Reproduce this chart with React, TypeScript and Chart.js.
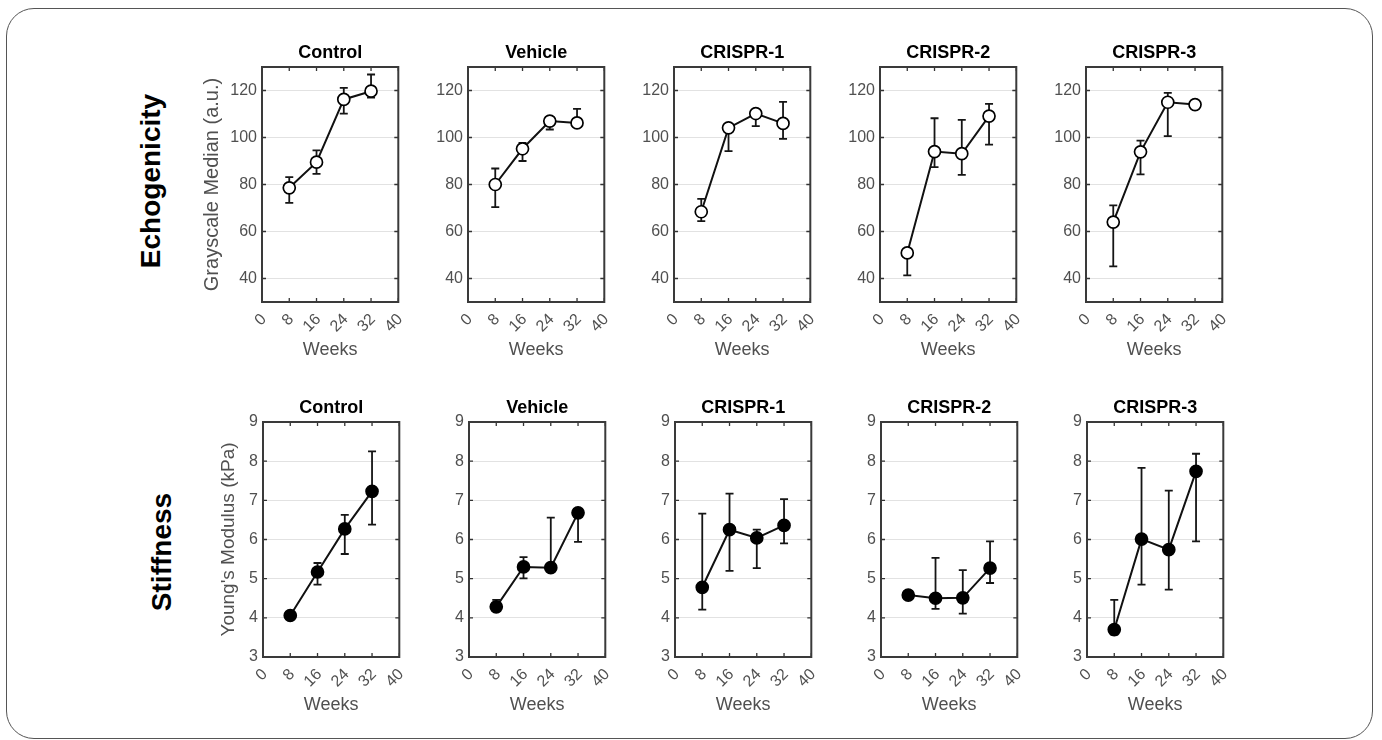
import React, { useEffect, useRef } from 'react';
import { Chart, registerables } from 'chart.js';

Chart.register(...registerables);

// ---------- data ----------
const GROUPS = ['Control', 'Vehicle', 'CRISPR-1', 'CRISPR-2', 'CRISPR-3'];
const WEEKS = [8, 16, 24, 32];
const X_TICKS = [0, 8, 16, 24, 32, 40];
const ECHO_TICKS = [40, 60, 80, 100, 120];
const STIFF_TICKS = [3, 4, 5, 6, 7, 8, 9];

// Echogenicity (grayscale median, a.u.), one row per group
const ECHO_MEAN = [
  [78.6, 89.5, 116.2, 119.7],
  [80.0, 95.2, 107.0, 106.2],
  [68.4, 104.1, 110.2, 106.0],
  [50.9, 94.0, 93.1, 109.1],
  [64.0, 93.9, 115.0, 114.0],
];
const ECHO_LOW = [
  [72.2, 84.5, 110.2, 117.0],
  [70.4, 90.0, 103.4, 104.5],
  [64.4, 94.2, 104.8, 99.4],
  [41.3, 87.4, 84.1, 97.0],
  [45.2, 84.3, 100.6, 113.3],
];
const ECHO_HIGH = [
  [83.1, 94.5, 121.1, 126.8],
  [86.8, 97.7, 108.0, 112.2],
  [73.9, 105.0, 111.5, 115.2],
  [52.5, 108.2, 107.5, 114.3],
  [71.1, 98.7, 119.0, 114.8],
];

// Stiffness (Young's modulus, kPa), one row per group
const STIFF_MEAN = [
  [4.06, 5.17, 6.27, 7.23],
  [4.28, 5.3, 5.28, 6.68],
  [4.78, 6.25, 6.04, 6.36],
  [4.58, 4.5, 4.51, 5.27],
  [3.7, 6.01, 5.74, 7.74],
];
const STIFF_LOW = [
  [4.0, 4.85, 5.63, 6.38],
  [4.2, 5.01, 5.2, 5.94],
  [4.21, 5.2, 5.27, 5.9],
  [4.52, 4.23, 4.11, 4.89],
  [3.57, 4.85, 4.72, 5.95],
];
const STIFF_HIGH = [
  [4.1, 5.4, 6.63, 8.25],
  [4.46, 5.55, 6.56, 6.75],
  [6.66, 7.17, 6.25, 7.03],
  [4.64, 5.53, 5.22, 5.95],
  [4.46, 7.83, 7.25, 8.19],
];

// ---------- layout ----------
const FONT = '"Liberation Sans", Arial, Helvetica, sans-serif';
const PLOT_LEFTS = [262, 468, 674, 880, 1086];
const PLOT_W = 136;
const PLOT_H = 235;
const Y_AXIS_W = 70;
const X_AXIS_H = 60;
const TITLE_H = 27;
const RIGHT_PAD = 4;

type PanelProps = {
  left: number;
  top: number;
  title: string;
  yTitle: string;
  yTitleSize: number;
  yTitlePad: number;
  mean: number[];
  low: number[];
  high: number[];
  yMin: number;
  yMax: number;
  yTicks: number[];
  filled: boolean;
};

function Panel(p: PanelProps) {
  const ref = useRef<HTMLCanvasElement>(null);
  useEffect(() => {
    if (!ref.current) return;
    const errorBars = {
      id: 'errorBars',
      beforeDatasetsDraw(chart: any) {
        const { ctx } = chart;
        const xs = chart.scales.x;
        const ys = chart.scales.y;
        ctx.save();
        ctx.strokeStyle = '#151515';
        ctx.lineWidth = 1.8;
        WEEKS.forEach((w, i) => {
          const px = xs.getPixelForValue(w);
          const y1 = ys.getPixelForValue(p.low[i]);
          const y2 = ys.getPixelForValue(p.high[i]);
          ctx.beginPath();
          ctx.moveTo(px, y1);
          ctx.lineTo(px, y2);
          ctx.moveTo(px - 4, y1);
          ctx.lineTo(px + 4, y1);
          ctx.moveTo(px - 4, y2);
          ctx.lineTo(px + 4, y2);
          ctx.stroke();
        });
        ctx.restore();
      },
    };
    const frame = {
      id: 'frame',
      afterDraw(chart: any) {
        const { ctx, chartArea: a } = chart;
        const xs = chart.scales.x;
        const ys = chart.scales.y;
        ctx.save();
        ctx.strokeStyle = '#333';
        ctx.lineWidth = 1.3;
        ctx.beginPath();
        xs.ticks.forEach((t: any) => {
          const px = xs.getPixelForValue(t.value);
          ctx.moveTo(px, a.bottom);
          ctx.lineTo(px, a.bottom - 4);
          ctx.moveTo(px, a.top);
          ctx.lineTo(px, a.top + 4);
        });
        ys.ticks.forEach((t: any) => {
          const py = ys.getPixelForValue(t.value);
          ctx.moveTo(a.left, py);
          ctx.lineTo(a.left + 4, py);
          ctx.moveTo(a.right, py);
          ctx.lineTo(a.right - 4, py);
        });
        ctx.stroke();
        ctx.strokeStyle = '#3a3a3a';
        ctx.lineWidth = 2;
        ctx.strokeRect(a.left, a.top, a.right - a.left, a.bottom - a.top);
        ctx.restore();
      },
    };
    const chart = new Chart(ref.current, {
      type: 'line',
      data: {
        datasets: [
          {
            data: WEEKS.map((w, i) => ({ x: w, y: p.mean[i] })),
            borderColor: '#111',
            borderWidth: 2,
            pointRadius: 6,
            pointBorderWidth: 1.7,
            pointBackgroundColor: p.filled ? '#000' : '#fff',
            pointBorderColor: '#000',
            tension: 0,
            clip: 8,
          },
        ],
      },
      options: {
        responsive: false,
        animation: false,
        events: [],
        layout: { padding: { left: 0, right: RIGHT_PAD, top: 0, bottom: 0 } },
        plugins: {
          legend: { display: false },
          tooltip: { enabled: false },
          title: {
            display: true,
            fullSize: false,
            text: p.title,
            color: '#000',
            font: { family: FONT, size: 18, weight: 'bold', lineHeight: 1 },
            padding: { top: 4, bottom: 5 },
          },
        },
        scales: {
          x: {
            type: 'linear',
            min: 0,
            max: 40,
            afterBuildTicks: (s: any) => {
              s.ticks = X_TICKS.map((v) => ({ value: v }));
            },
            afterFit: (s: any) => {
              s.height = X_AXIS_H;
              s.paddingLeft = 0;
              s.paddingRight = 0;
              s.paddingTop = 0;
              s.paddingBottom = 0;
            },
            grid: { display: false, drawTicks: false },
            border: { display: false },
            ticks: {
              color: '#505050',
              font: { family: FONT, size: 16 },
              maxRotation: 45,
              minRotation: 45,
              padding: 8,
              labelOffset: 2,
              autoSkip: false,
            },
            title: {
              display: true,
              text: 'Weeks',
              color: '#505050',
              font: { family: FONT, size: 18, lineHeight: 1 },
              padding: { top: 0, bottom: 3 },
            },
          },
          y: {
            type: 'linear',
            min: p.yMin,
            max: p.yMax,
            afterBuildTicks: (s: any) => {
              s.ticks = p.yTicks.map((v) => ({ value: v }));
            },
            afterFit: (s: any) => {
              s.width = Y_AXIS_W;
              s.paddingLeft = 0;
              s.paddingRight = 0;
              s.paddingTop = 0;
              s.paddingBottom = 0;
            },
            grid: { color: '#e2e2e2', lineWidth: 1, drawTicks: false },
            border: { display: false },
            ticks: { color: '#505050', font: { family: FONT, size: 16 }, padding: 5 },
            title: {
              display: !!p.yTitle,
              text: p.yTitle,
              color: '#505050',
              font: { family: FONT, size: p.yTitleSize, lineHeight: 1 },
              padding: { top: p.yTitlePad, bottom: 0 },
            },
          },
        },
      } as any,
      plugins: [errorBars, frame],
    });
    return () => chart.destroy();
  }, []);
  const w = Y_AXIS_W + PLOT_W + 2 * RIGHT_PAD;
  const h = TITLE_H + PLOT_H + X_AXIS_H;
  return (
    <canvas
      ref={ref}
      width={w}
      height={h}
      style={{ position: 'absolute', left: p.left - Y_AXIS_W, top: p.top - TITLE_H, width: w, height: h }}
    />
  );
}

const rowLabel: React.CSSProperties = {
  position: 'absolute',
  transform: 'translate(-50%, -50%) rotate(-90deg)',
  font: `bold 28px ${FONT}`,
  lineHeight: '28px',
  whiteSpace: 'nowrap',
  color: '#000',
};

export default function App() {
  return (
    <div
      style={{
        position: 'absolute',
        left: 0,
        top: 0,
        width: 1382,
        height: 740,
        background: '#fff',
        overflow: 'hidden',
        fontFamily: FONT,
      }}
    >
      <div
        style={{
          position: 'absolute',
          left: 6,
          top: 8,
          width: 1367,
          height: 731,
          boxSizing: 'border-box',
          border: '1.5px solid #555',
          borderRadius: 28,
        }}
      />
      <div style={{ ...rowLabel, left: 151, top: 181 }}>Echogenicity</div>
      <div style={{ ...rowLabel, left: 162, top: 552 }}>Stiffness</div>
      {GROUPS.map((g, i) => (
        <Panel
          key={'e' + g}
          left={PLOT_LEFTS[i]}
          top={67}
          title={g}
          yTitle={i === 0 ? 'Grayscale Median (a.u.)' : ''}
          yTitleSize={20}
          yTitlePad={i === 0 ? 10 : 0}
          mean={ECHO_MEAN[i]}
          low={ECHO_LOW[i]}
          high={ECHO_HIGH[i]}
          yMin={30}
          yMax={130}
          yTicks={ECHO_TICKS}
          filled={false}
        />
      ))}
      {GROUPS.map((g, i) => (
        <Panel
          key={'s' + g}
          left={PLOT_LEFTS[i] + 1}
          top={422}
          title={g}
          yTitle={i === 0 ? "Young's Modulus (kPa)" : ''}
          yTitleSize={19}
          yTitlePad={i === 0 ? 26 : 0}
          mean={STIFF_MEAN[i]}
          low={STIFF_LOW[i]}
          high={STIFF_HIGH[i]}
          yMin={3}
          yMax={9}
          yTicks={STIFF_TICKS}
          filled={true}
        />
      ))}
    </div>
  );
}
